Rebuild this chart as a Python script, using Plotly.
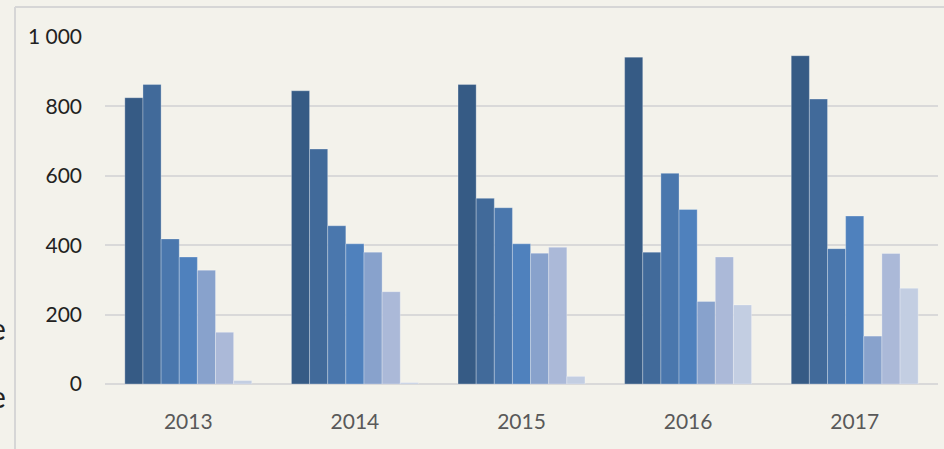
import plotly.graph_objects as go

years = ["2013", "2014", "2015", "2016", "2017"]

serie_1 = [825, 845, 863, 942, 946]
serie_2 = [863, 677, 535, 380, 821]
serie_3 = [418, 456, 508, 607, 390]
serie_4 = [366, 404, 404, 503, 484]
serie_5 = [328, 380, 377, 238, 138]
serie_6 = [149, 266, 394, 366, 376]
serie_7 = [10, 4, 22, 228, 276]

series = [serie_1, serie_2, serie_3, serie_4, serie_5, serie_6, serie_7]
names = ["Série 1", "Série 2", "Série 3", "Série 4", "Série 5", "Série 6", "Série 7"]
colors = ["#365b85", "#416a9a", "#4a77ad", "#4f81bd", "#88a2cc", "#abb9d8", "#c3cee2"]

W, H = 944, 449
ML, MR, MT, MB = 105, 6, 37, 65
pw = W - ML - MR
ph = H - MT - MB


def px_x(x):
    return (x - ML) / pw


def px_y(y):
    return (H - MB - y) / ph


fig = go.Figure()
for name, vals, color in zip(names, series, colors):
    fig.add_trace(go.Bar(
        x=years,
        y=vals,
        name=name,
        marker=dict(color=color, line=dict(color="rgba(255,255,255,0.35)", width=0.8)),
    ))

fig.update_layout(
    width=W,
    height=H,
    margin=dict(l=ML, r=MR, t=MT, b=MB),
    barmode="group",
    bargap=0.238,
    bargroupgap=0,
    showlegend=False,
    paper_bgcolor="#f3f2eb",
    plot_bgcolor="#f3f2eb",
    separators=", ",
    font=dict(family="Lato, Open Sans, sans-serif"),
    xaxis=dict(
        showgrid=False,
        showline=False,
        ticks="",
        ticklabelstandoff=23,
        tickfont=dict(size=21, color="#595959"),
    ),
    yaxis=dict(
        range=[0, 1000],
        tickvals=[0, 200, 400, 600, 800, 1000],
        separatethousands=True,
        showgrid=True,
        gridcolor="#d9d9d9",
        gridwidth=1.5,
        zeroline=True,
        zerolinecolor="#d9d9d9",
        zerolinewidth=2,
        showline=False,
        ticks="",
        ticklabelstandoff=22,
        tickfont=dict(size=21, color="#222222"),
    ),
    shapes=[
        dict(type="line", xref="paper", yref="paper",
             x0=px_x(15), x1=px_x(W + 5), y0=px_y(7), y1=px_y(7),
             line=dict(color="#d6d6d6", width=2)),
        dict(type="line", xref="paper", yref="paper",
             x0=px_x(15), x1=px_x(15), y0=px_y(7), y1=px_y(H + 5),
             line=dict(color="#d6d6d6", width=2)),
    ],
    annotations=[
        dict(text="e", xref="paper", yref="paper", x=px_x(8), y=px_y(328),
             xanchor="right", yanchor="middle", showarrow=False,
             font=dict(size=30, color="#222222")),
        dict(text="e", xref="paper", yref="paper", x=px_x(8), y=px_y(396),
             xanchor="right", yanchor="middle", showarrow=False,
             font=dict(size=30, color="#222222")),
    ],
)

fig.write_html(
    "out.html",
    config={"displayModeBar": False},
    post_script="document.body.style.margin='0';",
)
